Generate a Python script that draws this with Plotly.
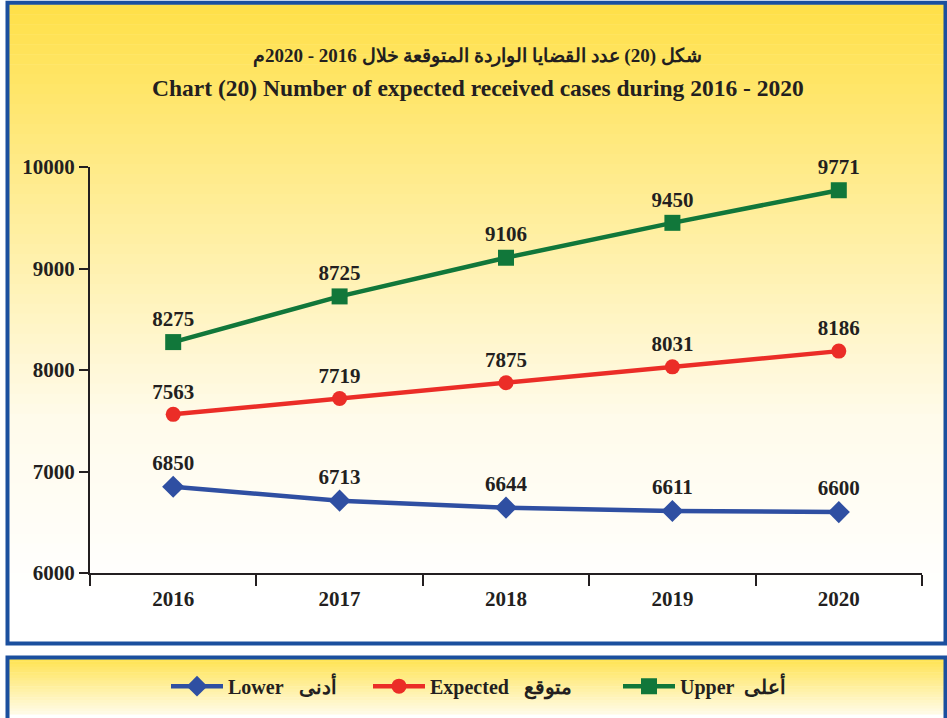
import plotly.graph_objects as go

years = ["2016", "2017", "2018", "2019", "2020"]
lower = [6850, 6713, 6644, 6611, 6600]
expected = [7563, 7719, 7875, 8031, 8186]
upper = [8275, 8725, 9106, 9450, 9771]

title_ar = "شكل (20) عدد القضايا الواردة المتوقعة خلال 2016 - 2020م"
title_en = "Chart (20) Number of expected received cases during 2016 - 2020"
names = ["Lower\u00a0\u00a0\u00a0أدنى", "Expected\u00a0\u00a0\u00a0متوقع", "Upper\u00a0\u00a0أعلى"]

W, H = 947, 718
L, R, T, B = 90, 922, 167, 576
FONT = "Liberation Serif, Times New Roman, serif"
TXT = "#231F20"
BORDER = "#1B4F9E"


def px(x):
    return (x - L) / (R - L)


def py(y):
    return (B - y) / (B - T)


def lerp(c1, c2, t):
    t = max(0.0, min(1.0, t))
    return "rgb(%d,%d,%d)" % tuple(round(a + (b - a) * t) for a, b in zip(c1, c2))


shapes = []
yel = (255, 224, 72)
pale = (255, 251, 235)
white = (255, 255, 255)
n = 64
y0, y1 = 3, 647
for i in range(n):
    a = y0 + (y1 - y0) * i / n
    b = y0 + (y1 - y0) * (i + 1) / n
    m = (a + b) / 2
    if m < 420:
        col = lerp(yel, pale, (m - y0) / (420 - y0))
    else:
        col = lerp(pale, white, (m - 420) / (600 - 420))
    shapes.append(dict(type="rect", xref="paper", yref="paper", layer="below",
                       x0=px(8), x1=px(945), y0=py(b + 0.5), y1=py(a),
                       fillcolor=col, line=dict(width=0)))
n2 = 20
ly0, ly1 = 662, 718
for i in range(n2):
    a = ly0 + (ly1 - ly0) * i / n2
    b = ly0 + (ly1 - ly0) * (i + 1) / n2
    m = (a + b) / 2
    col = lerp((255, 227, 80), (255, 251, 232), (m - ly0) / (ly1 - ly0))
    shapes.append(dict(type="rect", xref="paper", yref="paper", layer="below",
                       x0=px(8), x1=px(945), y0=py(b + 0.5), y1=py(a),
                       fillcolor=col, line=dict(width=0)))
shapes.append(dict(type="rect", xref="paper", yref="paper", layer="below",
                   x0=px(7.5), x1=px(945.5), y0=py(647), y1=py(1.5),
                   fillcolor="rgba(0,0,0,0)", line=dict(width=4, color=BORDER)))
shapes.append(dict(type="rect", xref="paper", yref="paper", layer="below",
                   x0=px(7.5), x1=px(945.5), y0=py(724), y1=py(661),
                   fillcolor="rgba(0,0,0,0)", line=dict(width=4, color=BORDER)))

fig = go.Figure()
series = [
    (names[0], lower, "#2F4FA2", "diamond", 17, 135),
    (names[1], expected, "#EB2D27", "circle", 15, 183),
    (names[2], upper, "#11773A", "square", 16, 110),
]
for name, vals, col, sym, sz, lw in series:
    fig.add_trace(go.Scatter(
        x=years, y=vals, name=name, mode="lines+markers+text",
        line=dict(color=col, width=4.5),
        marker=dict(symbol=sym, size=sz, color=col),
        text=[str(v) for v in vals], textposition="top center",
        textfont=dict(family=FONT, size=21, color=TXT, weight="bold"),
        cliponaxis=False, legendwidth=lw,
    ))

fig.update_layout(
    width=W, height=H,
    margin=dict(l=L, r=W - R, t=T, b=H - B),
    paper_bgcolor="white", plot_bgcolor="rgba(0,0,0,0)",
    shapes=shapes,
    showlegend=True,
    legend=dict(orientation="h", x=px(166), xanchor="left", y=py(690), yanchor="middle",
                bgcolor="rgba(0,0,0,0)", itemwidth=52,
                font=dict(family=FONT, size=20, color=TXT, weight="bold")),
    annotations=[
        dict(xref="paper", yref="paper", x=px(477), y=py(55), text="<b>%s</b>" % title_ar,
             showarrow=False, font=dict(family=FONT, size=19, color=TXT), xanchor="center", yanchor="middle"),
        dict(xref="paper", yref="paper", x=px(478), y=py(87), text="<b>%s</b>" % title_en,
             showarrow=False, font=dict(family=FONT, size=23.5, color=TXT), xanchor="center", yanchor="middle"),
    ],
)
fig.update_xaxes(type="category", range=[-0.5, 4.5], tickson="boundaries", ticks="outside",
                 ticklen=11, tickwidth=2, tickcolor=TXT, showline=True, linecolor=TXT, linewidth=2,
                 showgrid=False, zeroline=False, ticklabelstandoff=6,
                 tickfont=dict(family=FONT, size=21, color=TXT, weight="bold"))
fig.update_yaxes(range=[6000, 10000], dtick=1000, tickformat="d", ticks="outside", ticklen=9, tickwidth=2,
                 tickcolor=TXT, showline=True, linecolor=TXT, linewidth=2, showgrid=False,
                 zeroline=False, tickfont=dict(family=FONT, size=21, color=TXT, weight="bold"))

fig.write_html("out.html", config={"displayModeBar": False},
               post_script="document.body.style.margin='0';document.body.style.overflow='hidden';")
